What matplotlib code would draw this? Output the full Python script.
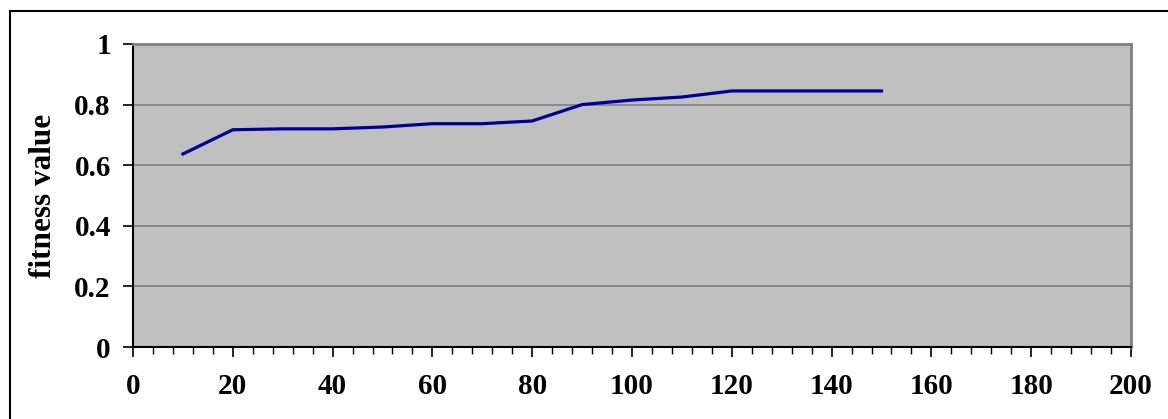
import numpy as np
import matplotlib.pyplot as plt
from matplotlib.patches import Rectangle
from matplotlib.ticker import MultipleLocator

# fitness per generation
generations = [10, 20, 30, 40, 50, 60, 70, 80, 90, 100, 110, 120, 130, 140, 150]
fitness = [0.637, 0.717, 0.72, 0.72, 0.726, 0.737, 0.737, 0.746, 0.80, 0.815,
           0.825, 0.845, 0.845, 0.845, 0.845]

plt.rcParams['font.family'] = ['Liberation Serif', 'DejaVu Serif']
plt.rcParams['font.weight'] = 'bold'

fig = plt.figure(figsize=(11.68, 4.19), dpi=100)
ax = fig.add_axes([133/1168, 1 - 347/419, (1131 - 133)/1168, (347 - 44)/419])

ax.set_facecolor('#c0c0c0')
ax.plot(generations, fitness, color='#000099', lw=2.3, solid_joinstyle='round')

ax.set_xlim(0, 200)
ax.set_ylim(0, 1)
ax.xaxis.set_major_locator(MultipleLocator(20))
ax.xaxis.set_minor_locator(MultipleLocator(4))
ax.set_yticks([0, 0.2, 0.4, 0.6, 0.8, 1.0])
ax.set_yticklabels(['0', '0.2', '0.4', '0.6', '0.8', '1'])
ax.grid(axis='y', color='#808080', lw=1.2)
ax.set_axisbelow(True)

ax.tick_params(axis='both', direction='out', length=7, width=1.2, colors='black',
               labelsize=21)
ax.tick_params(axis='x', which='minor', direction='out', length=5, width=1.0)
ax.tick_params(axis='x', pad=12)
ax.tick_params(axis='y', pad=9)
for lab in ax.get_xticklabels() + ax.get_yticklabels():
    lab.set_fontweight('bold')

for side in ['left', 'bottom']:
    ax.spines[side].set_color('black')
    ax.spines[side].set_linewidth(1.5)
for side in ['top', 'right']:
    ax.spines[side].set_color('#808080')
    ax.spines[side].set_linewidth(2)

ax.set_ylabel('fitness value', fontsize=22.5, fontweight='bold', labelpad=12)

# outer frame around the chart
fig.patches.append(Rectangle((10/1168, -0.1), 1.2, 1 - 11.5/419 + 0.1,
                             transform=fig.transFigure, fill=False,
                             edgecolor='black', lw=1.5))

fig.savefig('out.png', dpi=100)
